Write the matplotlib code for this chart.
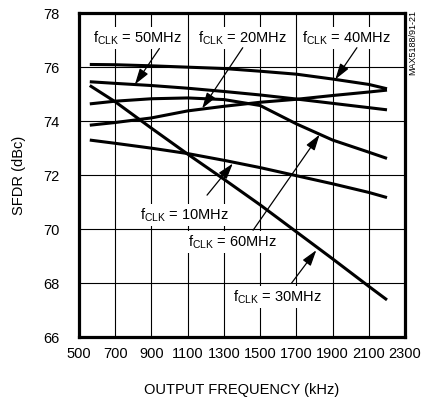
import matplotlib
matplotlib.use('Agg')
import matplotlib.pyplot as plt
from matplotlib import font_manager as fm

# output frequency (kHz) and SFDR (dBc) for each clock frequency
freq = [560, 700, 900, 1100, 1300, 1500, 1700, 1900, 2100, 2200]
sfdr_40 = [76.10, 76.09, 76.05, 76.00, 75.95, 75.85, 75.74, 75.56, 75.36, 75.20]
sfdr_50 = [75.46, 75.40, 75.32, 75.22, 75.10, 74.97, 74.82, 74.66, 74.50, 74.42]
sfdr_60 = [74.64, 74.74, 74.83, 74.86, 74.80, 74.58, 73.90, 73.30, 72.85, 72.62]
sfdr_20 = [73.85, 73.95, 74.12, 74.38, 74.55, 74.70, 74.81, 74.95, 75.08, 75.15]
sfdr_10 = [73.30, 73.18, 73.00, 72.80, 72.55, 72.28, 71.98, 71.68, 71.36, 71.17]
sfdr_30 = [75.32, 74.72, 73.74, 72.78, 71.85, 70.90, 69.90, 68.90, 67.88, 67.38]

xticks = [500, 700, 900, 1100, 1300, 1500, 1700, 1900, 2100, 2300]
yticks = [66, 68, 70, 72, 74, 76, 78]

names = {f.name for f in fm.fontManager.ttflist}
font = 'Liberation Sans Narrow' if 'Liberation Sans Narrow' in names else 'Liberation Sans'
plt.rcParams['font.family'] = font
plt.rcParams['mathtext.fontset'] = 'custom'
plt.rcParams['mathtext.rm'] = font

fig = plt.figure(figsize=(4.22, 3.99), dpi=100)
ax = fig.add_axes([0.187, 0.155, 0.773, 0.812])

for s in [sfdr_40, sfdr_50, sfdr_60, sfdr_20, sfdr_10, sfdr_30]:
    ax.plot(freq, s, color='black', lw=2.2, solid_capstyle='butt',
            solid_joinstyle='round', zorder=3)

ax.set_xlim(500, 2300)
ax.set_ylim(66, 78)
ax.set_xticks(xticks)
ax.set_yticks(yticks)
ax.grid(True, color='black', lw=0.8)
ax.tick_params(length=0, labelsize=10.5)
ax.tick_params(axis='y', pad=14)
ax.tick_params(axis='x', pad=7)
for sp in ax.spines.values():
    sp.set_linewidth(2.3)

ax.set_xlabel('OUTPUT FREQUENCY (kHz)', fontsize=10.5, labelpad=16)
ax.set_ylabel('SFDR (dBc)', fontsize=10.5, labelpad=12)

def lab(x, y, mhz):
    ax.text(x, y, r'f$_{\mathregular{CLK}}$ = %dMHz' % mhz, fontsize=10.5,
            ha='center', va='center', zorder=4,
            bbox=dict(facecolor='white', edgecolor='none', pad=1.5))

def arrow(tail, tip):
    ax.annotate('', xy=tip, xytext=tail, zorder=5,
                arrowprops=dict(arrowstyle='-|>,head_length=0.8,head_width=0.25',
                                mutation_scale=12, color='black', lw=0.9,
                                shrinkA=0, shrinkB=0))

lab(822, 77.09, 50)
lab(1402, 77.09, 20)
lab(1978, 77.09, 40)
lab(1082, 70.52, 10)
lab(1349, 69.53, 60)
lab(1594, 67.49, 30)

arrow((944, 76.69), (809, 75.36))
arrow((1404, 76.72), (1180, 74.47))
arrow((2034, 76.72), (1915, 75.55))
arrow((1207, 71.26), (1349, 72.43))
arrow((1461, 69.96), (1828, 73.50))
arrow((1672, 67.99), (1810, 69.22))

fig.text(0.979, 0.975, 'MAX5188/91-21', rotation=90, fontsize=6.5,
         ha='center', va='top')

fig.savefig('out.png', dpi=100)
